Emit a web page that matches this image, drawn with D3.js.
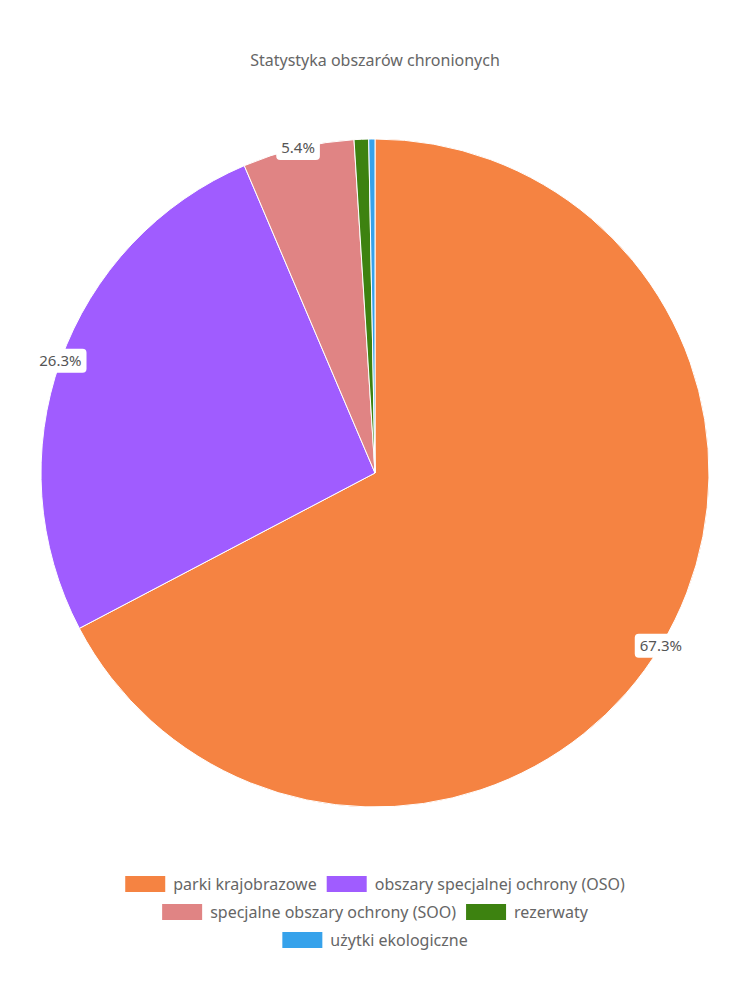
<!DOCTYPE html>
<html><head><meta charset="utf-8">
<script src="https://cdn.jsdelivr.net/npm/d3@7"></script>
<style>body{margin:0;background:#fff;font-family:"Noto Sans",Lato,sans-serif;}</style>
</head><body>
<svg width="750" height="1000"></svg>
<script>
let labels = ['parki krajobrazowe', 'obszary specjalnej ochrony (OSO)', 'specjalne obszary ochrony (SOO)', 'rezerwaty', 'użytki ekologiczne'];
let values = [67.3, 26.3, 5.4, 0.7, 0.3];
let colors = ['#f58342', '#a05cff', '#e08484', '#3d8210', '#36a2eb'];

let svg = d3.select('svg');
let cx = 375, cy = 473, r = 334;

svg.append('text').attr('x', 375).attr('y', 66).attr('text-anchor', 'middle')
    .attr('fill', '#666').attr('font-size', 16).text('Statystyka obszarów chronionych');

let pie = d3.pie().sort(null).value(d => d);
let arcs = pie(values);
let arc = d3.arc().innerRadius(0).outerRadius(r);
let g = svg.append('g').attr('transform', `translate(${cx},${cy})`);

g.selectAll('path').data(arcs).enter().append('path')
    .attr('d', arc).attr('fill', (d, i) => colors[i])
    .attr('stroke', '#fff').attr('stroke-width', 1);

// labels only for bigger slices
let lab = d3.arc().innerRadius(r).outerRadius(r);
arcs.filter(d => d.data > 3).forEach(d => {
    let [x, y] = lab.centroid(d);
    let t = d.data.toFixed(1) + '%';
    let lg = g.append('g').attr('transform', `translate(${x},${y})`);
    let txt = lg.append('text').attr('text-anchor', 'middle').attr('dy', '0.35em')
        .attr('font-size', 15).attr('fill', '#555').text(t);
    let w = txt.node().getComputedTextLength();
    lg.insert('rect', 'text').attr('x', -w / 2 - 5).attr('y', -12).attr('width', w + 10)
        .attr('height', 24).attr('rx', 4).attr('fill', '#fff');
});

// legend, centered rows
let rows = [[0, 1], [2, 3], [4]];
let rowY = [884, 912, 940];
let fs = 16, sw = 40, gap = 8, itemGap = 10;
rows.forEach((row, ri) => {
    let items = row.map(i => {
        let t = svg.append('text').attr('font-size', fs).attr('fill', '#666')
            .attr('dy', '0.35em').text(labels[i]);
        return {i, t, w: t.node().getComputedTextLength()};
    });
    let total = d3.sum(items, d => sw + gap + d.w) + itemGap * (items.length - 1);
    let x = 375 - total / 2;
    items.forEach(it => {
        svg.append('rect').attr('x', x).attr('y', rowY[ri] - 8).attr('width', sw).attr('height', 16)
            .attr('fill', colors[it.i]);
        it.t.attr('x', x + sw + gap).attr('y', rowY[ri]);
        x += sw + gap + it.w + itemGap;
    });
});
</script>
</body></html>
